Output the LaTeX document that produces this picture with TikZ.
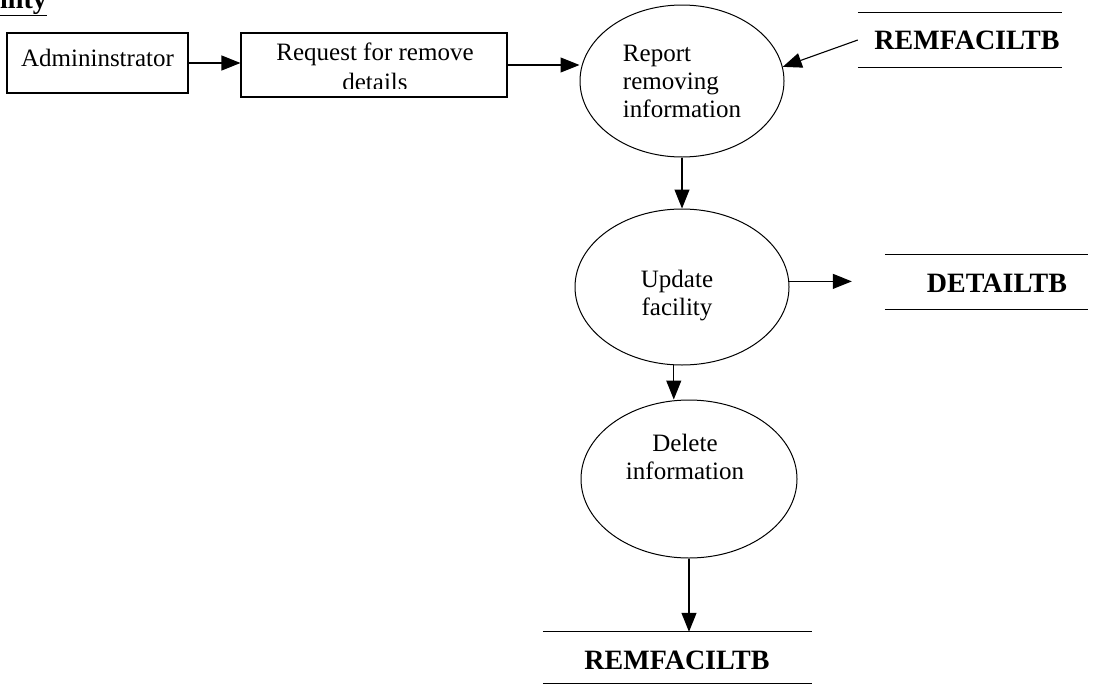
\documentclass[tikz,border=0pt]{standalone}
\usepackage{fontspec}
\setmainfont{Liberation Serif}
\usetikzlibrary{arrows.meta,shapes.geometric}

\begin{document}
\begin{tikzpicture}[x=1pt,y=-1pt,
  every node/.style={inner sep=0pt},
  storeline/.style={line width=1.1pt},
  flow/.style={line width=1.1pt,-{Triangle[length=19pt,width=15pt]}},
  entity/.style={draw,line width=1.1pt,rectangle},
  process/.style={draw,line width=1pt,ellipse},
  store/.style={minimum height=54pt},
  txt/.style={font=\fontsize{25}{28}\selectfont,align=center},
  storetxt/.style={font=\fontsize{28}{32}\selectfont\bfseries},
]
\useasboundingbox (0,0) rectangle (1095,686);

% heading (partly cut at the top edge)
\node[anchor=base west,font=\fontsize{28}{32}\selectfont\bfseries] (head) at (0,8) {\underline{ility}};

% external entity and request
\node[entity,minimum width=181pt,minimum height=60pt] (admin) at (97.5,63) {};
\node[txt] (admint) at (97.5,58) {Admininstrator};
\node[entity,minimum width=266pt,minimum height=64pt] (req) at (374,65) {};
\begin{scope}
  \clip (241,33) rectangle (507,88);
  \node[txt,font=\fontsize{25}{30}\selectfont] (reqt) at (375,67) {Request for remove\\details};
\end{scope}

% processes
\node[process,txt,align=left,minimum width=204pt,minimum height=152pt] (r1) at (682,81)
  {Report\\removing\\information};
\node[process,minimum width=214pt,minimum height=156pt] (r2) at (682,287) {};
\node[txt] (r2t) at (677,296) {Update\\facility};
\node[process,minimum width=216pt,minimum height=158pt] (r3) at (689,479) {};
\node[txt] (r3t) at (685,457) {Delete\\information};

% data stores
\node[store,minimum width=204pt] (s1) at (960,40) {};
\node[storetxt] (s1t) at (967,40) {REMFACILTB};
\draw[storeline] (s1.north west) -- (s1.north east) (s1.south west) -- (s1.south east);

\node[store,minimum width=203pt] (s2) at (986.5,282) {};
\node[storetxt] (s2t) at (997,283) {DETAILTB};
\draw[storeline] (s2.north west) -- (s2.north east) (s2.south west) -- (s2.south east);

\node[store,minimum width=269pt,minimum height=51pt] (s3) at (677.5,657.5) {};
\node[storetxt] (s3t) at (677,660) {REMFACILTB};
\draw[storeline] (s3.north west) -- (s3.north east) (s3.south west) -- (s3.south east);

% data flows
\draw[flow] (admin.east) -- (admin.east -| req.west);
\draw[flow] (req.east) -- (req.east -| r1.west);
\draw[flow] (s1.west) -- (r1.8);
\draw[flow] (r1.south) -- (r2.north);
\draw[flow,shorten >=33pt] (r2.3) -- (r2.3 -| s2.west);
\draw[flow] (r2.-96) -- (r2.-96 |- r3.north);
\draw[flow] (r3.south) -- (r3.south |- s3.north);
\end{tikzpicture}
\end{document}
